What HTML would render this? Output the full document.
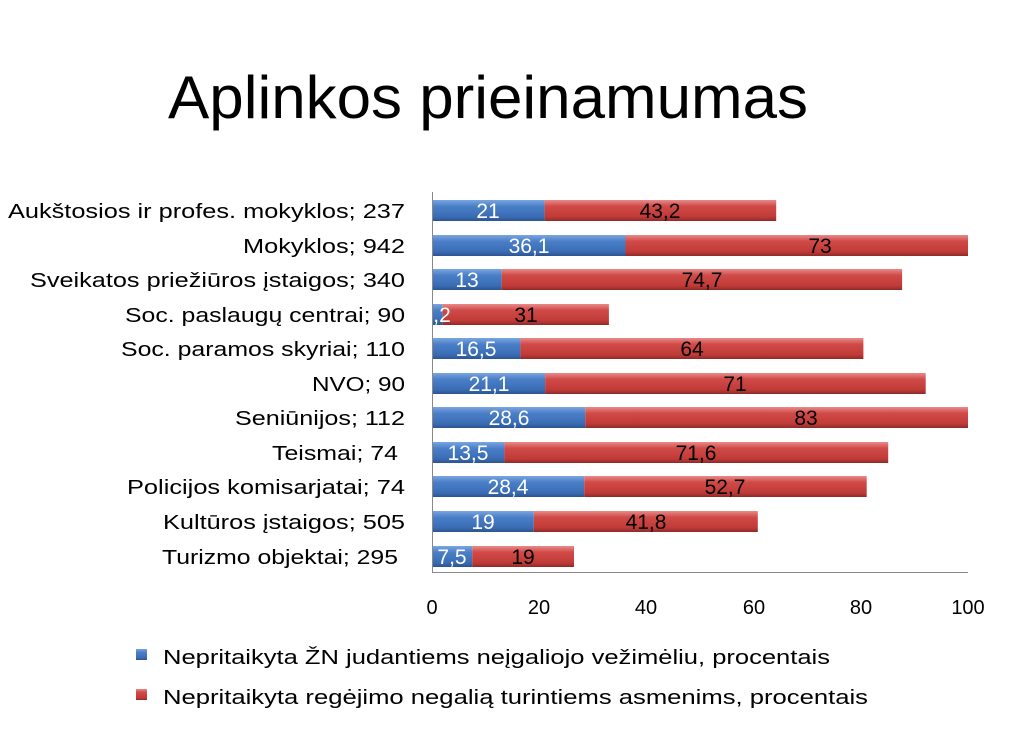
<!DOCTYPE html>
<html><head><meta charset="utf-8"><style>
body{margin:0;background:#fff;}
svg text{font-family:"Liberation Sans","DejaVu Sans",sans-serif;}
</style></head><body>
<svg width="1024" height="749" xmlns="http://www.w3.org/2000/svg">
<defs>
<linearGradient id="b" x1="0" y1="0" x2="0" y2="1">
<stop offset="0" stop-color="#7aa6e0"/><stop offset="0.3" stop-color="#4a7fc8"/><stop offset="0.8" stop-color="#3a6cb4"/><stop offset="1" stop-color="#2a5490"/></linearGradient>
<linearGradient id="r" x1="0" y1="0" x2="0" y2="1">
<stop offset="0" stop-color="#e88a88"/><stop offset="0.3" stop-color="#d04a48"/><stop offset="0.8" stop-color="#c03a38"/><stop offset="1" stop-color="#8e2a28"/></linearGradient>
</defs>
<text x="168" y="118" font-size="60" textLength="640" lengthAdjust="spacingAndGlyphs" fill="#000">Aplinkos prieinamumas</text>

<g font-size="20" text-anchor="end" fill="#000">
<text x="405" y="218" textLength="397" lengthAdjust="spacingAndGlyphs">Aukštosios ir profes. mokyklos; 237</text>
<text x="405" y="253" textLength="162" lengthAdjust="spacingAndGlyphs">Mokyklos; 942</text>
<text x="405" y="287" textLength="375" lengthAdjust="spacingAndGlyphs">Sveikatos priežiūros įstaigos; 340</text>
<text x="405" y="322" textLength="280" lengthAdjust="spacingAndGlyphs">Soc. paslaugų centrai; 90</text>
<text x="405" y="356" textLength="284" lengthAdjust="spacingAndGlyphs">Soc. paramos skyriai; 110</text>
<text x="405" y="391" textLength="93" lengthAdjust="spacingAndGlyphs">NVO; 90</text>
<text x="405" y="425" textLength="170" lengthAdjust="spacingAndGlyphs">Seniūnijos; 112</text>
<text x="398" y="460" textLength="126" lengthAdjust="spacingAndGlyphs">Teismai; 74</text>
<text x="405" y="494" textLength="278" lengthAdjust="spacingAndGlyphs">Policijos komisarjatai; 74</text>
<text x="405" y="529" textLength="242" lengthAdjust="spacingAndGlyphs">Kultūros įstaigos; 505</text>
<text x="398" y="564" textLength="236" lengthAdjust="spacingAndGlyphs">Turizmo objektai; 295</text>
</g>

<g>
<rect x="432" y="200" width="112.6" height="21" fill="url(#b)"/><rect x="544.6" y="200" width="231.6" height="21" fill="url(#r)"/>
<rect x="432" y="235" width="193.5" height="21" fill="url(#b)"/><rect x="625.5" y="235" width="342.5" height="21" fill="url(#r)"/>
<rect x="432" y="269" width="69.7" height="21" fill="url(#b)"/><rect x="501.7" y="269" width="400.4" height="21" fill="url(#r)"/>
<rect x="432" y="304" width="10.7" height="21" fill="url(#b)"/><rect x="442.7" y="304" width="166.2" height="21" fill="url(#r)"/>
<rect x="432" y="338" width="88.4" height="21" fill="url(#b)"/><rect x="520.4" y="338" width="343" height="21" fill="url(#r)"/>
<rect x="432" y="373" width="113.1" height="21" fill="url(#b)"/><rect x="545.1" y="373" width="380.6" height="21" fill="url(#r)"/>
<rect x="432" y="407" width="153.3" height="21" fill="url(#b)"/><rect x="585.3" y="407" width="382.7" height="21" fill="url(#r)"/>
<rect x="432" y="442" width="72.4" height="21" fill="url(#b)"/><rect x="504.4" y="442" width="383.8" height="21" fill="url(#r)"/>
<rect x="432" y="476" width="152.2" height="21" fill="url(#b)"/><rect x="584.2" y="476" width="282.5" height="21" fill="url(#r)"/>
<rect x="432" y="511" width="101.8" height="21" fill="url(#b)"/><rect x="533.8" y="511" width="224" height="21" fill="url(#r)"/>
<rect x="432" y="546" width="40.2" height="21" fill="url(#b)"/><rect x="472.2" y="546" width="101.8" height="21" fill="url(#r)"/>
</g>

<g font-size="21" text-anchor="middle" fill="#fff">
<text x="488" y="218">21</text>
<text x="529" y="253">36,1</text>
<text x="467" y="287">13</text>
<text x="442" y="322">,2</text>
<text x="476" y="356">16,5</text>
<text x="489" y="391">21,1</text>
<text x="509" y="425">28,6</text>
<text x="468" y="460">13,5</text>
<text x="508" y="494">28,4</text>
<text x="483" y="529">19</text>
<text x="452" y="564">7,5</text>
</g>
<g font-size="21" text-anchor="middle" fill="#000">
<text x="660" y="218">43,2</text>
<text x="820" y="253">73</text>
<text x="702" y="287">74,7</text>
<text x="526" y="322">31</text>
<text x="692" y="356">64</text>
<text x="735" y="391">71</text>
<text x="806" y="425">83</text>
<text x="696" y="460">71,6</text>
<text x="725" y="494">52,7</text>
<text x="646" y="529">41,8</text>
<text x="523" y="564">19</text>
</g>

<line x1="432.5" y1="192" x2="432.5" y2="573" stroke="#888"/>
<line x1="432" y1="572.5" x2="968" y2="572.5" stroke="#888"/>
<g font-size="20" text-anchor="middle" fill="#000">
<text x="432" y="614">0</text><text x="539" y="614">20</text><text x="646" y="614">40</text><text x="754" y="614">60</text><text x="861" y="614">80</text><text x="968" y="614">100</text>
</g>
<rect x="136" y="649" width="11" height="11" fill="url(#b)"/>
<text x="163" y="664" font-size="20" textLength="667" lengthAdjust="spacingAndGlyphs">Nepritaikyta ŽN judantiems neįgaliojo vežimėliu, procentais</text>
<rect x="136" y="689" width="11" height="11" fill="url(#r)"/>
<text x="163" y="704" font-size="20" textLength="705" lengthAdjust="spacingAndGlyphs">Nepritaikyta regėjimo negalią turintiems asmenims, procentais</text>
</svg>
</body></html>
